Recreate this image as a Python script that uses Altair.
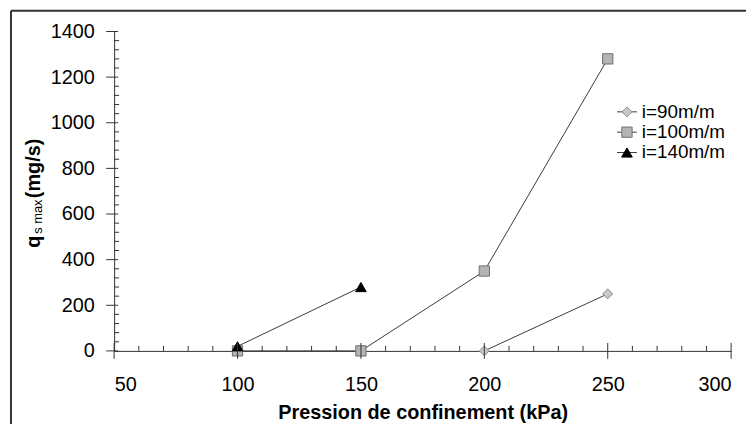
import altair as alt
import pandas as pd

# ---- data ----
series = ["i=90m/m", "i=100m/m", "i=140m/m"]
p90_x = [200, 250]
p90_y = [0, 250]
p100_x = [100, 150, 200, 250]
p100_y = [0, 0, 350, 1280]
p140_x = [100, 150]
p140_y = [20, 280]

x_major = [50, 100, 150, 200, 250, 300]
x_minor = [v for v in range(50, 301, 10) if v % 50 != 0]
y_major = [0, 200, 400, 600, 800, 1000, 1200, 1400]
y_minor = [v for v in range(0, 1401, 40) if v % 200 != 0]

rows = []
for name, xs, ys in [(series[0], p90_x, p90_y), (series[1], p100_x, p100_y), (series[2], p140_x, p140_y)]:
    for a, b in zip(xs, ys):
        rows.append({"series": name, "p": a, "q": b})
df = pd.DataFrame(rows)

FONT = "Liberation Sans"
W, H = 622, 322

xs = alt.Scale(domain=[50, 300], nice=False, zero=False)
ys = alt.Scale(domain=[0, 1400], nice=False)

shape_s = alt.Scale(domain=series, range=["diamond", "square", "triangle-up"])
fill_s = alt.Scale(domain=series, range=["#c8c8c8", "#b4b4b4", "#000000"])
stroke_s = alt.Scale(domain=series, range=["#8a8a8a", "#6e6e6e", "#000000"])
size_s = alt.Scale(domain=series, range=[100, 115, 110])

base = alt.Chart(df)

lines = base.mark_line(color="#3a3a3a", strokeWidth=1).encode(
    x=alt.X("p:Q", scale=xs,
            axis=alt.Axis(values=x_major, format="d", ticks=False, grid=False, domainColor="#333",
                          labelFontSize=20, labelFont=FONT, labelColor="#000",
                          labelPadding=24, title="Pression de confinement (kPa)",
                          titleFont=FONT, titleFontSize=20, titleFontWeight="bold",
                          titleColor="#000", titlePadding=8)),
    y=alt.Y("q:Q", scale=ys,
            axis=alt.Axis(values=y_major, format="d", ticks=False, grid=False, domainColor="#333",
                          labelFontSize=20, labelFont=FONT, labelColor="#000",
                          labelPadding=20, title=None)),
    detail="series:N",
)

points = base.mark_point(filled=True, opacity=1, strokeWidth=1).encode(
    x=alt.X("p:Q", scale=xs),
    y=alt.Y("q:Q", scale=ys),
    shape=alt.Shape("series:N", scale=shape_s, legend=None),
    fill=alt.Fill("series:N", scale=fill_s, legend=None),
    stroke=alt.Stroke("series:N", scale=stroke_s, legend=None),
    size=alt.Size("series:N", scale=size_s, legend=None),
)

ymaj = alt.Chart(pd.DataFrame({"v": y_major})).mark_rule(color="#333").encode(
    y=alt.Y("v:Q", scale=ys), x=alt.value(-8), x2=alt.value(4))
ymin = alt.Chart(pd.DataFrame({"v": y_minor})).mark_rule(color="#333").encode(
    y=alt.Y("v:Q", scale=ys), x=alt.value(0), x2=alt.value(5))
xmaj = alt.Chart(pd.DataFrame({"v": x_major})).mark_rule(color="#333").encode(
    x=alt.X("v:Q", scale=xs), y=alt.value(H - 8), y2=alt.value(H + 8))
xmin = alt.Chart(pd.DataFrame({"v": x_minor})).mark_rule(color="#333").encode(
    x=alt.X("v:Q", scale=xs), y=alt.value(H - 5), y2=alt.value(H))

# y-axis title with subscript
t_q = alt.Chart(pd.DataFrame({"t": ["q"]})).mark_text(
    angle=270, align="left", baseline="alphabetic", font=FONT, fontSize=20,
    fontWeight="bold", color="#000").encode(text="t:N", x=alt.value(-75), y=alt.value(218))
t_s = alt.Chart(pd.DataFrame({"t": ["s max"]})).mark_text(
    angle=270, align="left", baseline="alphabetic", font=FONT, fontSize=13,
    color="#000").encode(text="t:N", x=alt.value(-73), y=alt.value(204))
t_u = alt.Chart(pd.DataFrame({"t": ["(mg/s)"]})).mark_text(
    angle=270, align="left", baseline="alphabetic", font=FONT, fontSize=20,
    fontWeight="bold", color="#000").encode(text="t:N", x=alt.value(-75), y=alt.value(168))

# outer frame
frame_top = alt.Chart(pd.DataFrame({"k": [0]})).mark_rule(color="#333", strokeWidth=2).encode(
    x=alt.value(-104), x2=alt.value(700), y=alt.value(-21))
frame_left = alt.Chart(pd.DataFrame({"k": [0]})).mark_rule(color="#333", strokeWidth=2).encode(
    x=alt.value(-104), y=alt.value(-21), y2=alt.value(500))

main = alt.layer(lines, points, ymaj, ymin, xmaj, xmin, t_q, t_s, t_u, frame_top, frame_left)

# legend (line through marker)
ldf = pd.DataFrame({"series": series})
ly = alt.Y("series:N", sort=series, axis=None,
           scale=alt.Scale(type="point", domain=series, range=[81, 122], padding=0))
leg_line = alt.Chart(ldf).mark_rule(color="#3a3a3a", strokeWidth=1).encode(
    y=ly, x=alt.value(507), x2=alt.value(527))
leg_pts = alt.Chart(ldf).mark_point(filled=True, opacity=1, strokeWidth=1).encode(
    y=ly, x=alt.value(517),
    shape=alt.Shape("series:N", scale=shape_s, legend=None),
    fill=alt.Fill("series:N", scale=fill_s, legend=None),
    stroke=alt.Stroke("series:N", scale=stroke_s, legend=None),
    size=alt.Size("series:N", scale=size_s, legend=None),
)
leg_txt = alt.Chart(ldf).mark_text(align="left", baseline="middle", font=FONT,
                                   fontSize=19, color="#000", dx=0).encode(
    y=ly, x=alt.value(532), text="series:N")
legend = alt.layer(leg_line, leg_pts, leg_txt)

chart = alt.layer(main, legend).resolve_scale(y="independent").properties(
    width=W, height=H,
    autosize=alt.AutoSizeParams(type="none"),
    padding={"left": 107, "top": 22, "right": 15, "bottom": 72},
    background="white",
).configure_view(stroke=None)

chart.save("out.html", embed_options={"renderer": "svg", "actions": False})
